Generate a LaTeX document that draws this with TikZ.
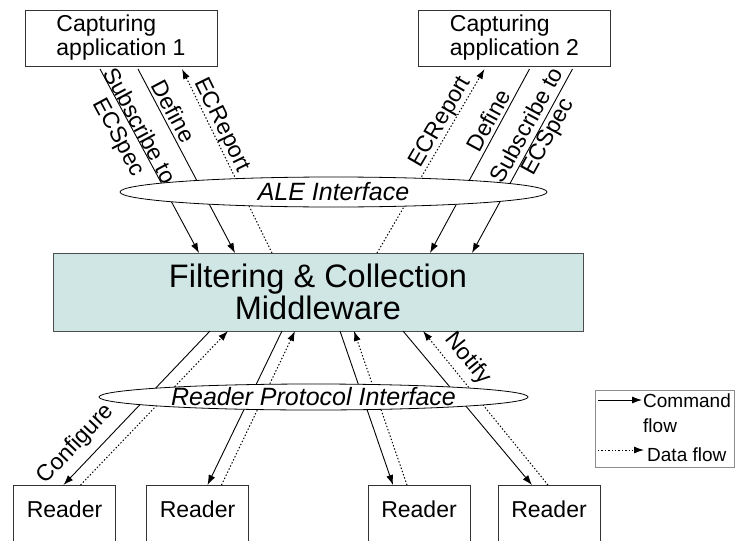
\documentclass[tikz,border=0pt]{standalone}
\usepackage{fontspec}
\setmainfont{Liberation Sans}
\usetikzlibrary{arrows.meta,shapes.geometric}
\definecolor{mwfill}{RGB}{207,230,228}
\tikzset{
  appbox/.style={draw=black!80, line width=0.8pt, outer sep=0pt, minimum width=192pt, minimum height=56pt, align=left, font=\fontsize{23}{24}\selectfont},
  readerbox/.style={draw=black!80, line width=0.8pt, outer sep=0pt, anchor=north, minimum width=102pt, inner ysep=15pt, text height=17pt, text depth=30pt, font=\fontsize{23}{24}\selectfont},
  mwbox/.style={draw=black!70, line width=0.9pt, fill=mwfill, outer sep=0pt, minimum width=530pt, minimum height=78pt, align=center, font=\fontsize{32.5}{32}\selectfont},
  iface/.style={ellipse, draw, fill=white, line width=0.8pt, inner sep=0pt},
  ifacetext/.style={font=\fontsize{25}{26}\selectfont\itshape, inner sep=0pt},
  cmd/.style={-{Latex[length=10pt,width=7pt]}, line width=0.9pt},
  dat/.style={cmd, line width=1pt, dash pattern=on 1.4pt off 2pt},
  lbl/.style={sloped, inner sep=3pt, font=\fontsize{23}{23}\selectfont},
  legtext/.style={inner sep=0pt, align=left, font=\fontsize{19}{25}\selectfont}
}
\begin{document}
\begin{tikzpicture}[x=1pt,y=-1pt]
\useasboundingbox (0,0) rectangle (737,541);
\clip (0,0) rectangle (737,541);
% applications and middleware
\node[appbox] (app1) at (121,38) {Capturing\\application 1};
\node[appbox] (app2) at (514.5,38) {Capturing\\application 2};
\node[mwbox] (mw) at (318,292) {Filtering \& Collection\\Middleware};
% readers
\node[readerbox] (r1) at (64.5,485) {Reader};
\node[readerbox] (r2) at (197.5,485) {Reader};
\node[readerbox] (r3) at (419,485) {Reader};
\node[readerbox] (r4) at (549,485) {Reader};
% application 1 flows
\draw[cmd] ([shift={(75,3)}]app1.south west) -- node[lbl, pos=0.33, align=center, yshift=-5pt]{Subscribe to\\ECSpec} ([shift={(146,0)}]mw.north west);
\draw[cmd] ([shift={(113,3)}]app1.south west) -- node[lbl, pos=0.26, above]{Define} ([shift={(182,0)}]mw.north west);
\draw[dat] ([shift={(219,0)}]mw.north west) -- node[lbl, pos=0.67, above, inner sep=0pt]{ECReport} ([shift={(157,3)}]app1.south west);
% application 2 flows
\draw[dat] ([shift={(324,0)}]mw.north west) -- node[lbl, pos=0.68, above, inner sep=0pt]{ECReport} ([shift={(66,3)}]app2.south west);
\draw[cmd] ([shift={(111,3)}]app2.south west) -- node[lbl, pos=0.31, above]{Define} ([shift={(377,0)}]mw.north west);
\draw[cmd] ([shift={(154,3)}]app2.south west) -- node[lbl, pos=0.34, align=center]{Subscribe to\\ECSpec} ([shift={(419,0)}]mw.north west);
% reader flows
\draw[cmd] ([shift={(157,0)}]mw.south west) -- node[lbl, pos=0.82, above, inner sep=8pt]{Configure} ([shift={(50,0)}]r1.north west);
\draw[dat] ([shift={(67,0)}]r1.north west) -- ([shift={(175,0)}]mw.south west);
\draw[cmd] ([shift={(229,0)}]mw.south west) -- ([shift={(61,0)}]r2.north west);
\draw[dat] ([shift={(75,0)}]r2.north west) -- ([shift={(242,0)}]mw.south west);
\draw[cmd] ([shift={(287,0)}]mw.south west) -- ([shift={(25,0)}]r3.north west);
\draw[dat] ([shift={(39,0)}]r3.north west) -- ([shift={(301,0)}]mw.south west);
\draw[cmd] ([shift={(350,0)}]mw.south west) -- ([shift={(34,0)}]r4.north west);
\draw[dat] ([shift={(50,0)}]r4.north west) -- node[lbl, pos=0.75, above, inner sep=6pt]{Notify} ([shift={(370,0)}]mw.south west);
% interfaces
\node[iface, minimum width=427pt, minimum height=30pt] (ale) at (333.5,192) {};
\node[ifacetext] (aletext) at (ale.center) {ALE Interface};
\node[iface, minimum width=429pt, minimum height=26pt] (rpi) at (313.5,397) {};
\node[ifacetext] (rpitext) at (rpi.center) {Reader Protocol Interface};
% legend
\node[draw=black!45, line width=0.8pt, minimum width=139pt, minimum height=77pt] (legend) at (664.5,428.5) {};
\coordinate (cmdfrom) at (598,400);
\coordinate (cmdto) at (642,400);
\coordinate (datfrom) at (598,450);
\coordinate (datto) at (644,450);
\draw[cmd] (cmdfrom) -- (cmdto);
\draw[dat] (datfrom) -- (datto);
\node[legtext, anchor=north west] (cmdtext) at (643,394) {Command\\flow};
\node[legtext, anchor=base west] (dattext) at (647,461) {Data flow};
\end{tikzpicture}
\end{document}
